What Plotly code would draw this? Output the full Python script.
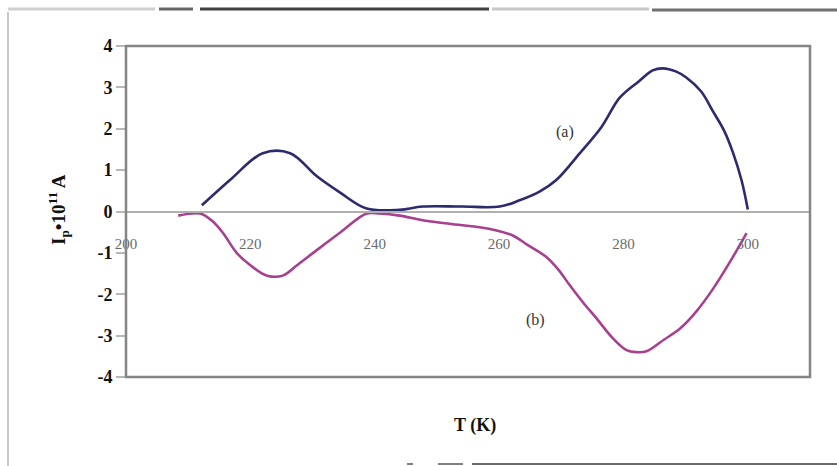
import plotly.graph_objects as go

# ---- data ----
T_a = [212.2, 217.0, 222.0, 226.4, 230.7, 234.5, 238.7, 244.0, 247.7, 254.0, 260.1, 263.3,
       266.5, 269.2, 273.0, 276.5, 279.4, 282.5, 284.7, 286.3, 288.5, 290.1, 292.5, 294.4,
       296.2, 297.6, 299.0, 300.0]
I_a = [0.15, 0.80, 1.41, 1.41, 0.85, 0.45, 0.07, 0.04, 0.12, 0.12, 0.12, 0.27,
       0.48, 0.76, 1.41, 2.05, 2.75, 3.15, 3.41, 3.46, 3.38, 3.24, 2.90, 2.42,
       1.95, 1.43, 0.75, 0.05]

T_b = [208.4, 211.9, 213.8, 215.6, 217.8, 220.0, 222.7, 225.2, 227.5, 230.1, 234.5, 238.7,
       240.8, 244.0, 247.7, 253.5, 256.9, 259.6, 262.2, 264.5, 267.6, 269.5, 271.4,
       273.5, 275.7, 278.2, 280.5, 282.0, 283.7, 286.5, 289.1, 291.8, 294.4, 297.2, 299.8]
I_b = [-0.10, -0.05, -0.22, -0.52, -1.00, -1.30, -1.55, -1.55, -1.30, -1.00, -0.50, -0.05,
       -0.05, -0.10, -0.21, -0.32, -0.38, -0.46, -0.58, -0.80, -1.10, -1.40, -1.79,
       -2.20, -2.59, -3.05, -3.35, -3.40, -3.38, -3.10, -2.83, -2.40, -1.87, -1.20, -0.52]

x_ticks = [200, 220, 240, 260, 280, 300]
y_ticks = [-4, -3, -2, -1, 0, 1, 2, 3, 4]

W, H = 837, 466
L, R, TOP, B = 126, 27, 46, 89
serif = "Liberation Serif, Times New Roman, serif"

def px(x):
    return (x - L) / (W - L - R)

def py(y):
    return (H - B - y) / (H - TOP - B)

fig = go.Figure()
fig.add_trace(go.Scatter(x=T_a, y=I_a, mode="lines", line=dict(color="#2d2a6e", width=2.6),
                         line_shape="spline", showlegend=False))
fig.add_trace(go.Scatter(x=T_b, y=I_b, mode="lines", line=dict(color="#a8408f", width=2.6),
                         line_shape="spline", showlegend=False))

fig.update_layout(
    width=W, height=H,
    margin=dict(l=L, r=R, t=TOP, b=B, autoexpand=False),
    paper_bgcolor="white", plot_bgcolor="white",
    xaxis=dict(range=[200, 310], tickvals=x_ticks, ticktext=[str(v) for v in x_ticks],
               automargin=False,
               showgrid=False, zeroline=False, showline=True, linecolor="#b0b0b0", linewidth=1.5,
               anchor="free", position=0.5, ticks="", ticklabelstandoff=19,
               tickfont=dict(family=serif, size=15, color="#6a6a6a")),
    yaxis=dict(range=[-4, 4], tickvals=y_ticks, ticktext=[str(v) for v in y_ticks],
               automargin=False,
               showgrid=False, zeroline=False, showline=False,
               ticks="outside", ticklen=9, tickcolor="#b8b8b8", tickwidth=1.5,
               tickfont=dict(family=serif, size=18, color="#111111", weight="bold")),
    shapes=[
        dict(type="rect", xref="paper", yref="paper", x0=0, x1=1, y0=0, y1=1,
             line=dict(color="#858585", width=2.5)),
        # scanned page frame
        dict(type="line", xref="paper", yref="paper", x0=px(8), x1=px(8), y0=py(12), y1=py(466),
             line=dict(color="#c8c8c8", width=2)),
        dict(type="line", xref="paper", yref="paper", x0=px(8), x1=px(155), y0=py(9), y1=py(9),
             line=dict(color="#cfcfcf", width=3)),
        dict(type="line", xref="paper", yref="paper", x0=px(159), x1=px(193), y0=py(9), y1=py(9),
             line=dict(color="#666666", width=3)),
        dict(type="line", xref="paper", yref="paper", x0=px(200), x1=px(489), y0=py(9), y1=py(9),
             line=dict(color="#404040", width=3)),
        dict(type="line", xref="paper", yref="paper", x0=px(492), x1=px(649), y0=py(9), y1=py(9),
             line=dict(color="#c8c8c8", width=3)),
        dict(type="line", xref="paper", yref="paper", x0=px(652), x1=px(837), y0=py(10), y1=py(10),
             line=dict(color="#707070", width=3)),
        dict(type="line", xref="paper", yref="paper", x0=px(407), x1=px(413), y0=py(464), y1=py(464),
             line=dict(color="#808080", width=2)),
        dict(type="line", xref="paper", yref="paper", x0=px(438), x1=px(463), y0=py(464), y1=py(464),
             line=dict(color="#808080", width=2)),
        dict(type="line", xref="paper", yref="paper", x0=px(472), x1=px(837), y0=py(464), y1=py(464),
             line=dict(color="#6a6a6a", width=2)),
    ],
    annotations=[
        dict(text="<b>T (K)</b>", xref="paper", yref="paper", x=px(475), y=py(425),
             xanchor="center", yanchor="middle", showarrow=False,
             font=dict(family=serif, size=18, color="#111111")),
        dict(text="<b>I<sub>p</sub>•10<sup>11</sup> A</b>", xref="paper", yref="paper",
             x=px(58), y=py(210), xanchor="center", yanchor="middle", textangle=-90, showarrow=False,
             font=dict(family=serif, size=19, color="#111111")),
        dict(text="(a)", x=270.6, y=1.93, showarrow=False,
             font=dict(family=serif, size=16, color="#333333")),
        dict(text="(b)", x=265.8, y=-2.62, showarrow=False,
             font=dict(family=serif, size=16, color="#333333")),
    ],
)

fig.write_html("out.html", config={"displayModeBar": False},
               post_script="document.body.style.margin='0';document.body.style.overflow='hidden';")
